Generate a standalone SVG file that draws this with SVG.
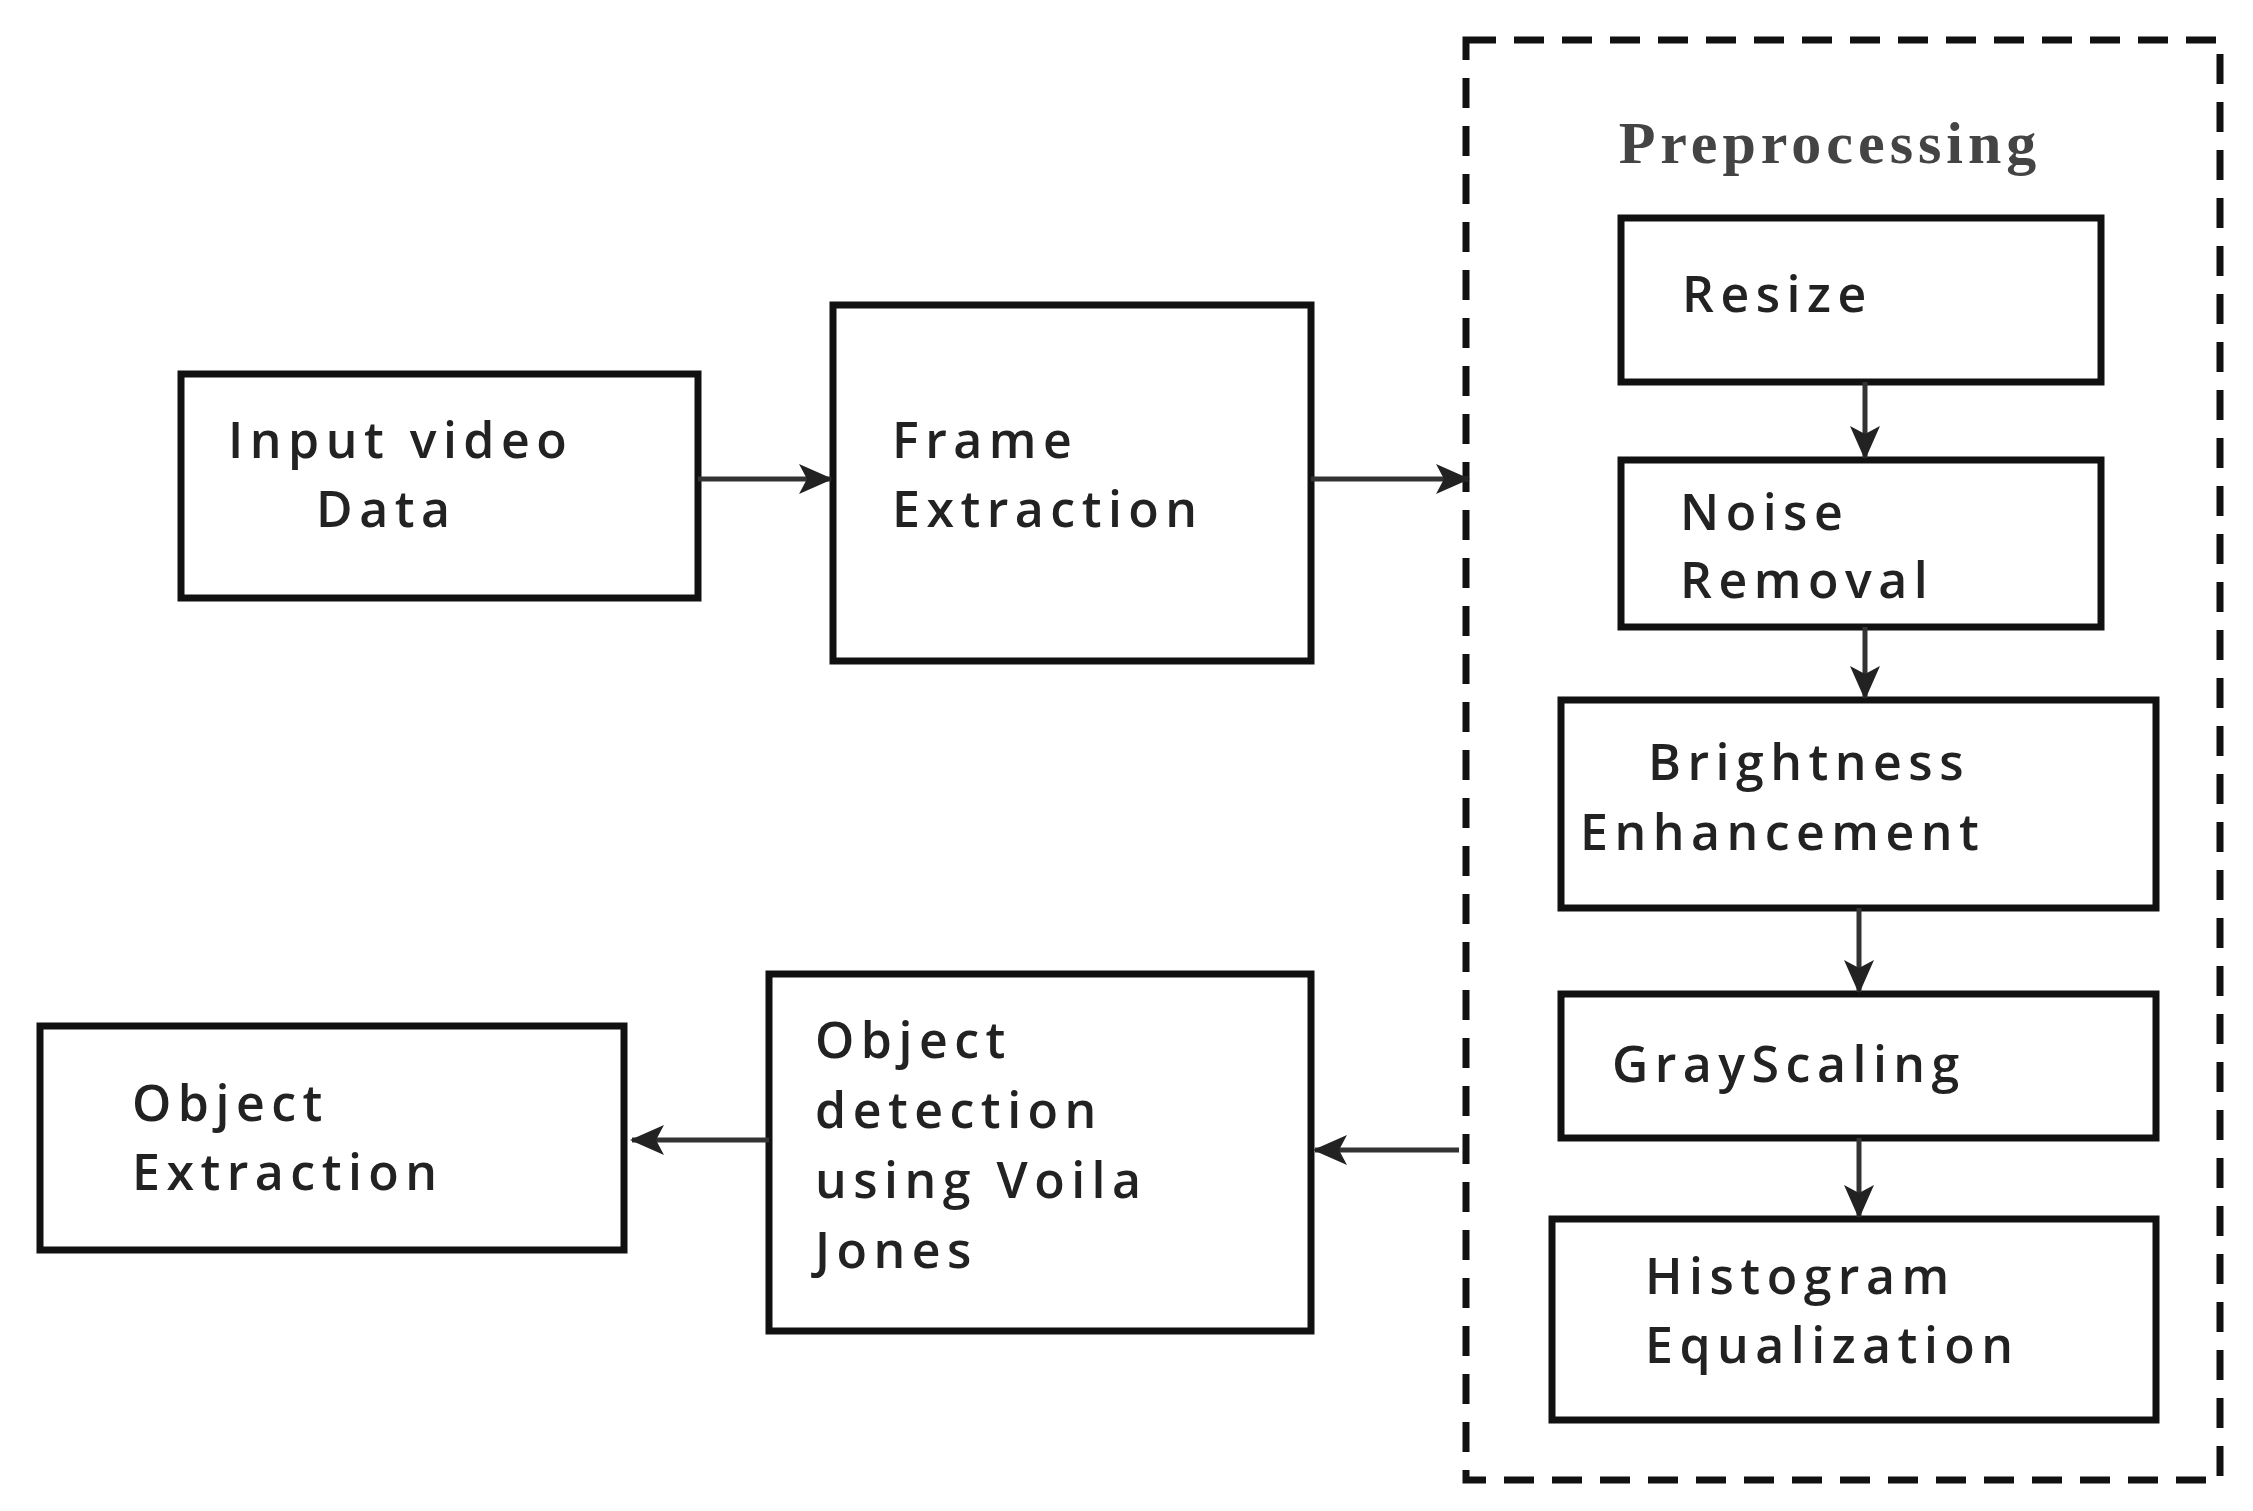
<svg xmlns="http://www.w3.org/2000/svg" width="2253" height="1511" viewBox="0 0 2253 1511">
<style>
.b{fill:#fff;stroke:#111;stroke-width:7}
.t{font-family:"Open Sans","DejaVu Sans",sans-serif;font-size:50px;font-weight:600;fill:#222;letter-spacing:6.5px}
.c{stroke:#333;stroke-width:5;fill:none;marker-end:url(#a)}
</style>
<defs><marker id="a" markerWidth="34" markerHeight="30" refX="32" refY="15" orient="auto" markerUnits="userSpaceOnUse" viewBox="0 0 34 30"><path d="M0,0L34,15L0,30L8,15z" fill="#222"/></marker>
</defs>
<rect width="2253" height="1511" fill="#fff"/>
<g id="preprocessing">
<rect x="1466" y="40" width="754" height="1440" fill="none" stroke="#111" stroke-width="7" stroke-dasharray="30,18"/>
<text x="1830" y="163" text-anchor="middle" style="font-family:'Liberation Serif',serif;font-size:60px;font-weight:bold;fill:#444;letter-spacing:5px">Preprocessing</text>
</g>
<g id="input"><rect class="b" x="181" y="374" width="517" height="224"/><text class="t" x="228" y="458">Input video</text><text class="t" x="316" y="527">Data</text></g>
<g id="frame"><rect class="b" x="833" y="305" width="478" height="356"/><text class="t" x="892" y="458">Frame</text><text class="t" x="892" y="527">Extraction</text></g>
<g id="resize"><rect class="b" x="1621" y="218" width="480" height="164"/><text class="t" x="1682" y="312">Resize</text></g>
<g id="noise"><rect class="b" x="1621" y="460" width="480" height="167"/><text class="t" x="1680" y="530">Noise</text><text class="t" x="1680" y="598">Removal</text></g>
<g id="bright"><rect class="b" x="1561" y="700" width="595" height="208"/><text class="t" x="1648" y="780">Brightness</text><text class="t" x="1580" y="850">Enhancement</text></g>
<g id="gray"><rect class="b" x="1561" y="994" width="595" height="144"/><text class="t" x="1612" y="1082">GrayScaling</text></g>
<g id="hist"><rect class="b" x="1552" y="1219" width="604" height="201"/><text class="t" x="1645" y="1294">Histogram</text><text class="t" x="1645" y="1363">Equalization</text></g>
<g id="detect"><rect class="b" x="769" y="974" width="542" height="357"/><text class="t" x="815" y="1058">Object</text><text class="t" x="815" y="1128">detection</text><text class="t" x="815" y="1198">using Voila</text><text class="t" x="815" y="1268">Jones</text></g>
<g id="extract"><rect class="b" x="40" y="1026" width="584" height="224"/><text class="t" x="132" y="1121">Object</text><text class="t" x="132" y="1190">Extraction</text></g>
<g id="connectors">
<line class="c" x1="698" y1="479" x2="831" y2="479"/>
<line class="c" x1="1311" y1="479" x2="1468" y2="479"/>
<line class="c" x1="1459" y1="1150" x2="1315" y2="1150"/>
<line class="c" x1="769" y1="1140" x2="632" y2="1140"/>
<line class="c" x1="1865" y1="382" x2="1865" y2="458"/>
<line class="c" x1="1865" y1="627" x2="1865" y2="698"/>
<line class="c" x1="1859" y1="908" x2="1859" y2="992"/>
<line class="c" x1="1859" y1="1138" x2="1859" y2="1217"/>
</g>
</svg>
